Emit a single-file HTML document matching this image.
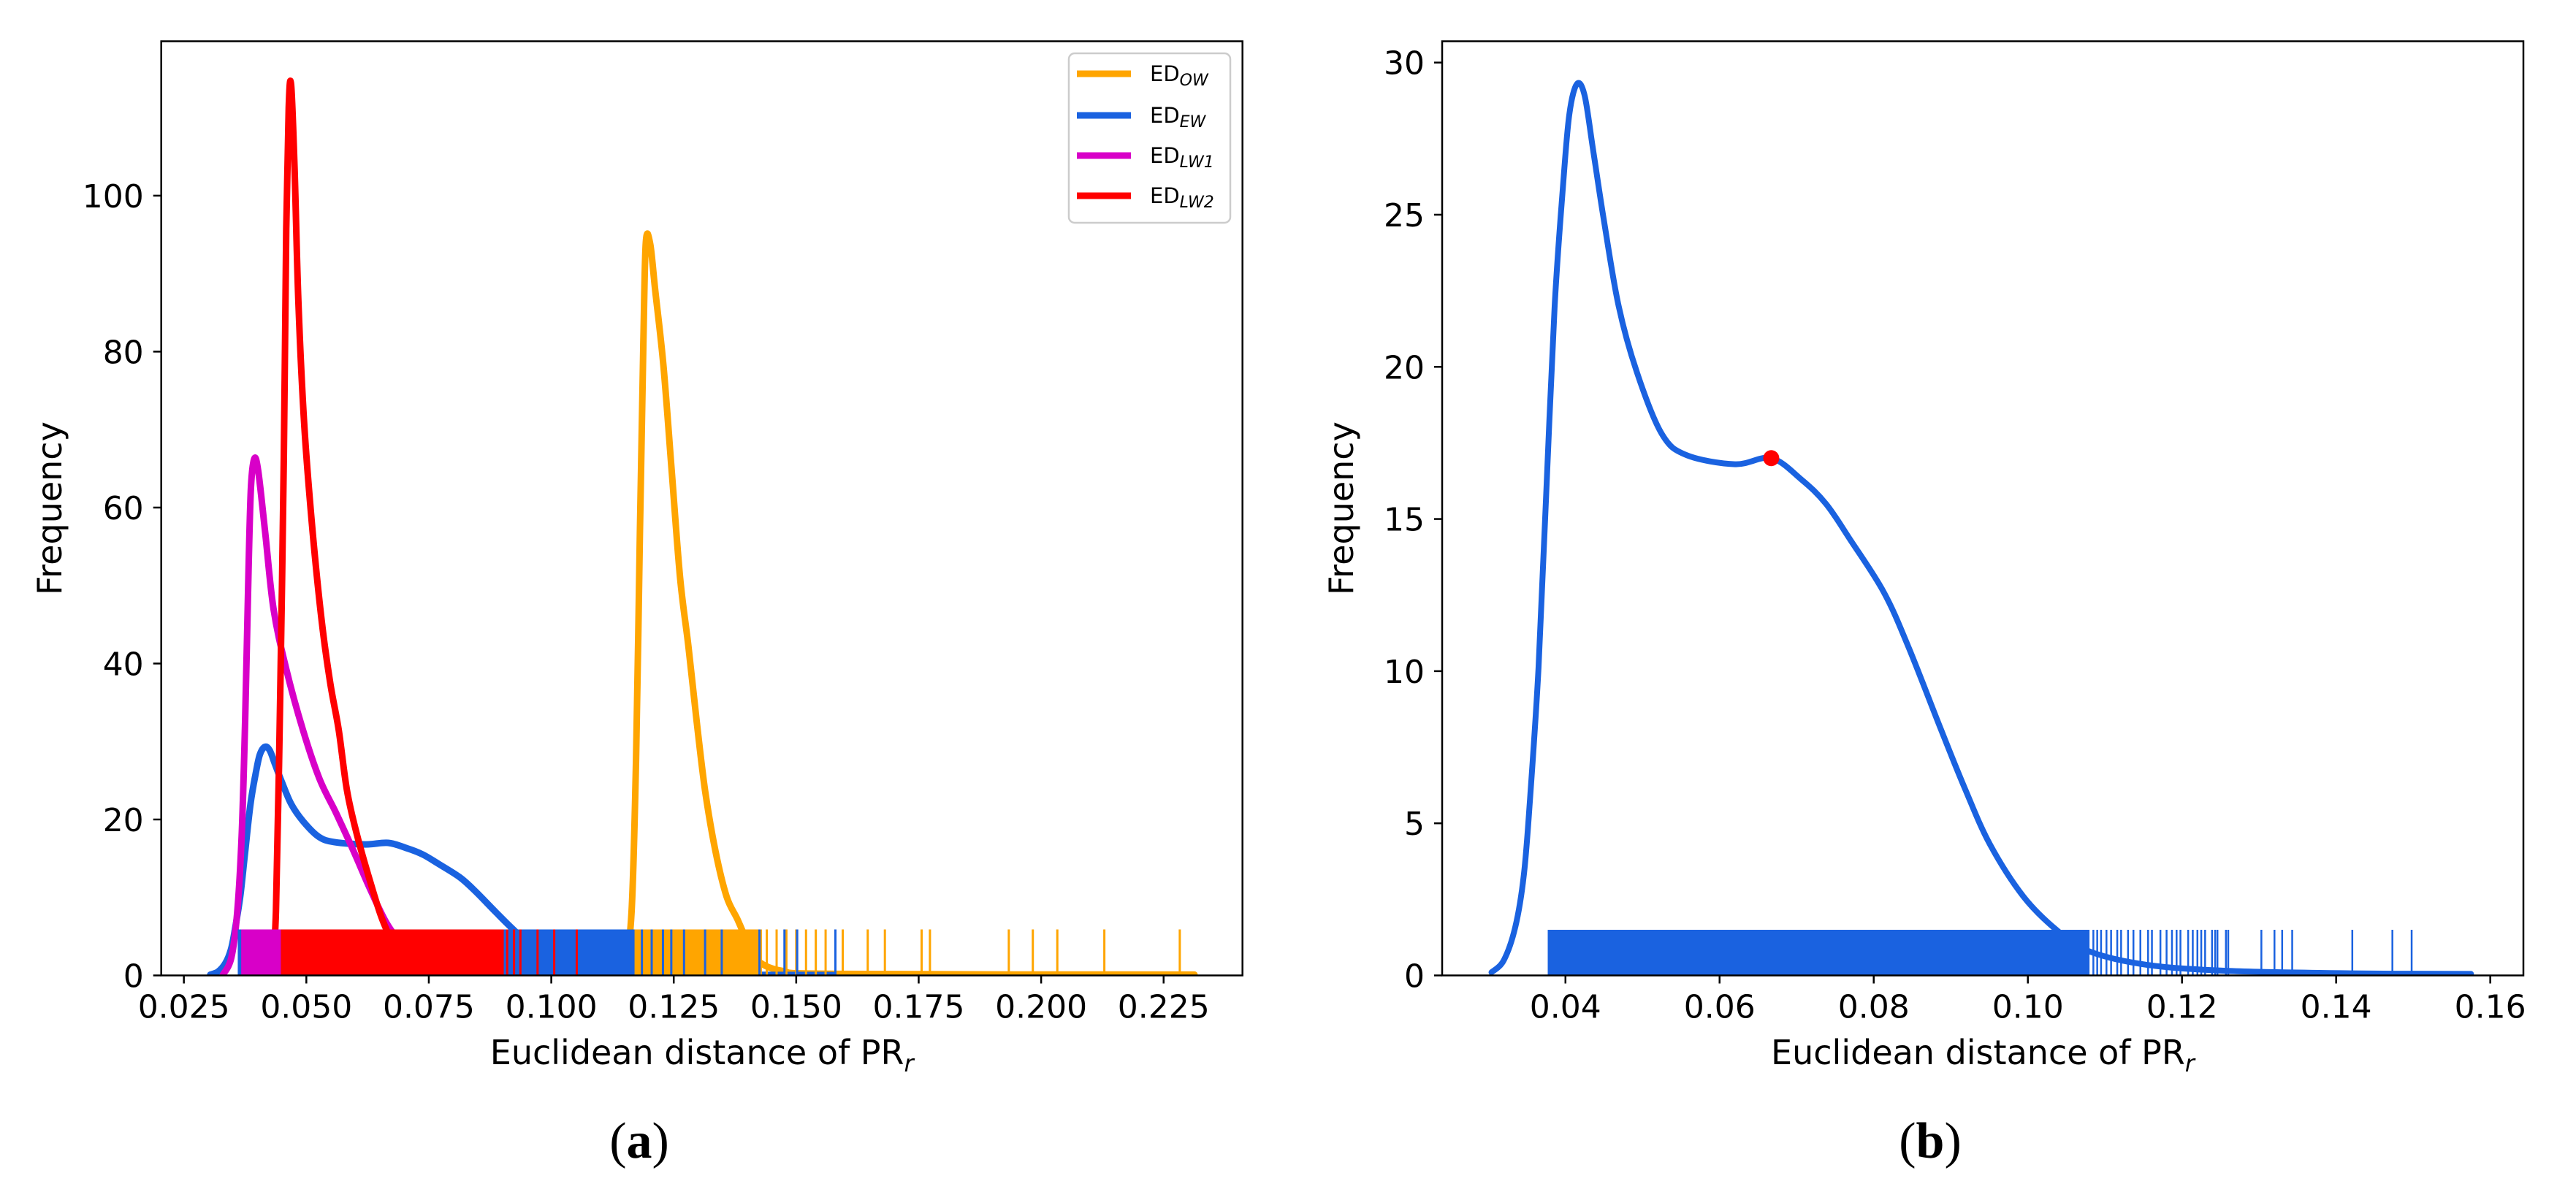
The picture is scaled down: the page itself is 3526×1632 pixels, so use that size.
<!DOCTYPE html>
<html><head><meta charset="utf-8">
<style>
html,body{margin:0;padding:0;background:#fff;}
svg{display:block;}
text{font-family:"DejaVu Sans","Liberation Sans",sans-serif;fill:#000;}
</style></head>
<body>
<svg id="fig" width="3526" height="1632" viewBox="0 0 3526 1632" xmlns="http://www.w3.org/2000/svg"></svg>
<script>
// ---------- data ----------
const xTicksA = [0.025,0.050,0.075,0.100,0.125,0.150,0.175,0.200,0.225];
const xTickLabelsA = ["0.025","0.050","0.075","0.100","0.125","0.150","0.175","0.200","0.225"];
const yTicksA = [0,20,40,60,80,100];
const xTicksB = [0.04,0.06,0.08,0.10,0.12,0.14,0.16];
const xTickLabelsB = ["0.04","0.06","0.08","0.10","0.12","0.14","0.16"];
const yTicksB = [0,5,10,15,20,25,30];

// ED_EW (blue) density
const ewX = [0.0304,0.032,0.0335,0.0346,0.0354,0.0365,0.0375,0.0386,0.0397,0.0405,0.0415,0.0425,0.0436,0.045,0.0469,0.0493,0.0525,0.0557,0.062,0.0667,0.0706,0.0738,0.077,0.0813,0.0845,0.0887,0.0919,0.0951,0.0994,0.1037,0.1079,0.1154,0.126,0.142,0.1575];
const ewY = [0.1,0.5,1.6,3.3,5.8,10.1,15.8,22,26,28.3,29.3,28.9,27.1,24.8,22,19.8,17.8,17.1,16.8,17.0,16.3,15.5,14.3,12.6,10.8,8.1,6.1,4.3,2.6,1.5,0.8,0.35,0.15,0.07,0.05];
// ED_OW (orange)
const owX = [0.115,0.1164,0.1173,0.1181,0.1188,0.1193,0.1202,0.1212,0.1229,0.1246,0.1263,0.128,0.1297,0.1314,0.1335,0.1358,0.138,0.14,0.1417,0.147,0.159,0.2313];
const owY = [0.6,8.2,27.6,56.8,81,94,93.8,88,78.2,64.6,51,42.2,32.5,23.7,16,10.1,7.2,4.3,2.1,0.6,0.2,0.1];
// ED_LW1 (magenta)
const lw1X = [0.033,0.0347,0.0359,0.0368,0.0375,0.0382,0.0387,0.0394,0.0402,0.0416,0.0433,0.0459,0.0493,0.0527,0.0561,0.0596,0.063,0.0664,0.0698,0.0732,0.0766,0.08];
const lw1Y = [0.1,2.3,8.2,17.9,32.5,52,62.6,66.3,64.6,56.8,47,39.3,31.5,25.2,20.8,16,11.1,6.7,3.8,1.8,0.9,0.3];
// ED_LW2 (red)
const lw2X = [0.0428,0.0438,0.0447,0.0454,0.0459,0.0464,0.0469,0.0476,0.0484,0.0496,0.0513,0.0532,0.0549,0.0566,0.0583,0.0604,0.063,0.0655,0.0681,0.0715,0.0766,0.0835];
const lw2Y = [0.1,8.2,37.4,66.5,95.7,111.3,114.2,103.5,86,70.4,56.8,45.1,37.4,31.5,23.7,17.9,12.1,7.2,3.8,1.6,0.4,0.1];

// rug data (dense ranges + individual ticks)
const owRugBand = [[0.1155,0.143]];
const owRugTicks = [0.144,0.146,0.148,0.150,0.152,0.154,0.156,0.1595,0.1646,0.1681,0.1756,0.1773,0.1934,0.1983,0.2033,0.2129,0.2283];
const ewRugBand = [[0.036,0.117]];
const ewRugTicks = [0.1185,0.1205,0.1228,0.1245,0.1271,0.1314,0.1348,0.1425,0.1476,0.1502,0.158];
const lw1RugBand = [[0.0367,0.0448]];
const lw2RugBand = [[0.0448,0.0903]];
const lw2RugTicks = [0.0852,0.0869,0.0886,0.0895,0.091,0.0924,0.0937,0.0972,0.1006,0.1052];
const rugHeightA = 5.9;

const ewRugBandB = [[0.0377,0.108]];
const ewRugTicksB = [0.1085,0.109,0.1095,0.1102,0.1108,0.1116,0.1121,0.113,0.1137,0.1146,0.1156,0.1161,0.1172,0.118,0.1187,0.1193,0.1198,0.1208,0.1214,0.122,0.1225,0.123,0.1239,0.1243,0.1246,0.1257,0.126,0.1303,0.132,0.133,0.1343,0.1421,0.1473,0.1498];
const rugHeightB = 1.5;
const peakB = [0.0667, 17.0];

// ---------- drawing ----------
const NS = "http://www.w3.org/2000/svg";
const svg = document.getElementById('fig');
function el(tag, attrs, parent){const e=document.createElementNS(NS,tag);for(const k in attrs)e.setAttribute(k,attrs[k]);(parent||svg).appendChild(e);return e;}

function panel(o){
  const sx = v => o.x0 + (v - o.xmin)/(o.xmax - o.xmin)*(o.x1 - o.x0);
  const sy = v => o.y1 - (v - o.ymin)/(o.ymax - o.ymin)*(o.y1 - o.y0);
  const g = el('g',{});
  
  
  const clipId = o.name+'-clip';
  const cp = el('clipPath',{id:clipId},g);
  el('rect',{x:o.x0,y:o.y0,width:o.x1-o.x0,height:o.y1-o.y0},cp);
  const plot = el('g',{'clip-path':'url(#'+clipId+')'},g);
  return {sx,sy,g,plot};
}
function rug(p, bands, ticks, h, color, name, tw){
  const gg = el('g',{},p.plot);
  
  
  bands.forEach(b=>{
    const r = el('rect',{x:p.sx(b[0]),y:p.sy(h),width:p.sx(b[1])-p.sx(b[0]),height:p.sy(0)-p.sy(h),fill:color},gg);
    
    
  });
  ticks.forEach(t=>{
    const l = el('line',{x1:p.sx(t),x2:p.sx(t),y1:p.sy(h),y2:p.sy(0),stroke:color,'stroke-width':tw},gg);
    
    
  });
}
function curve(p, xs, ys, color, w, name){
  const pts = xs.map((x,i)=>[p.sx(x), p.sy(ys[i])]);
  let d = 'M'+pts[0][0].toFixed(1)+','+pts[0][1].toFixed(1);
  for(let i=0;i<pts.length-1;i++){
    const p0=pts[Math.max(i-1,0)], p1=pts[i], p2=pts[i+1], p3=pts[Math.min(i+2,pts.length-1)];
    const t=1/6;
    const c1=[p1[0]+(p2[0]-p0[0])*t, p1[1]+(p2[1]-p0[1])*t];
    const c2=[p2[0]-(p3[0]-p1[0])*t, p2[1]-(p3[1]-p1[1])*t];
    d += ' C'+c1[0].toFixed(1)+','+c1[1].toFixed(1)+' '+c2[0].toFixed(1)+','+c2[1].toFixed(1)+' '+p2[0].toFixed(1)+','+p2[1].toFixed(1);
  }
  const path = el('path',{d:d,fill:'none',stroke:color,'stroke-width':w,'stroke-linejoin':'round','stroke-linecap':'round'},p.plot);
  
  
}
function axes(p,o,xt,xl,yt){
  const fr = el('rect',{x:o.x0,y:o.y0,width:o.x1-o.x0,height:o.y1-o.y0,fill:'none',stroke:'#000','stroke-width':2.5},p.g);
  
  
  xt.forEach((t,i)=>{
    const x=p.sx(t);
    el('line',{x1:x,x2:x,y1:o.y1,y2:o.y1+11,stroke:'#000','stroke-width':2.5},p.g);
    const tx = el('text',{x:x,y:o.y1+58,'text-anchor':'middle','font-size':44},p.g);
    tx.textContent = xl[i];
    
    
  });
  yt.forEach(t=>{
    const y=p.sy(t);
    el('line',{x1:o.x0-11,x2:o.x0,y1:y,y2:y,stroke:'#000','stroke-width':2.5},p.g);
    const tx = el('text',{x:o.x0-24,y:y+16,'text-anchor':'end','font-size':44},p.g);
    tx.textContent = String(t);
    
    
  });
  const xl2 = el('text',{x:(o.x0+o.x1)/2,y:1457,'text-anchor':'middle','font-size':46},p.g);
  xl2.innerHTML = 'Euclidean distance of PR<tspan font-size="32" font-style="italic" dy="10">r</tspan>';
  
  
  const yl = el('text',{x:0,y:0,'text-anchor':'middle','font-size':46,transform:'translate('+o.ylx+','+((o.y0+o.y1)/2)+') rotate(-90)'},p.g);
  yl.textContent='Frequency';
  
  
  const cap = el('text',{x:o.capx,y:1585,'text-anchor':'middle','font-size':70,style:'font-family:"Liberation Serif",serif'},p.g);
  cap.innerHTML = '(<tspan font-weight="bold">'+o.cap+'</tspan>)';
  
  
}

// Panel A
const oA = {name:'chart-a',x0:220.7,x1:1700.7,y0:56.5,y1:1335.5,xmin:0.02038,xmax:0.2411,ymin:0,ymax:119.8,ylx:84,capx:875,cap:'a'};
const pA = panel(oA);
curve(pA, owX, owY, '#ffa500', 9, 'ed-ow-line');
curve(pA, ewX, ewY, '#1a62e0', 9, 'ed-ew-line');
curve(pA, lw1X, lw1Y, '#d800c8', 9, 'ed-lw1-line');
curve(pA, lw2X, lw2Y, '#ff0000', 9, 'ed-lw2-line');
rug(pA, owRugBand, owRugTicks, rugHeightA, '#ffa500', 'ed-ow-rug', 3);
rug(pA, ewRugBand, ewRugTicks, rugHeightA, '#1a62e0', 'ed-ew-rug', 3);
rug(pA, lw1RugBand, [], rugHeightA, '#d800c8', 'ed-lw1-rug', 3);
rug(pA, lw2RugBand, lw2RugTicks, rugHeightA, '#ff0000', 'ed-lw2-rug', 3);
axes(pA, oA, xTicksA, xTickLabelsA, yTicksA);

// legend
const lg = el('g',{});


el('rect',{x:1463,y:73,width:221,height:232,rx:8,fill:'#fff',stroke:'#cccccc','stroke-width':2.5},lg);
const legItems = [['#ffa500','OW'],['#1a62e0','EW'],['#d800c8','LW1'],['#ff0000','LW2']];
const legRows = [101,158,213,268];
legItems.forEach((it,i)=>{
  const e = el('g',{},lg);
  
  
  el('line',{x1:1474,x2:1548,y1:legRows[i],y2:legRows[i],stroke:it[0],'stroke-width':9},e);
  const t = el('text',{x:1574,y:legRows[i]+10,'font-size':29},e);
  t.innerHTML = 'ED<tspan font-style="italic" font-size="22" dy="6">'+it[1]+'</tspan>';
});

// Panel B
const oB = {name:'chart-b',x0:1974,x1:3454,y0:56.5,y1:1335.5,xmin:0.024,xmax:0.1643,ymin:0,ymax:30.7,ylx:1852,capx:2642,cap:'b'};
const pB = panel(oB);
curve(pB, ewX, ewY, '#1a62e0', 8, 'ed-ew-line-b');
rug(pB, ewRugBandB, ewRugTicksB, rugHeightB, '#1a62e0', 'ed-ew-rug-b', 2.5);
const dot = el('circle',{cx:pB.sx(peakB[0]),cy:pB.sy(peakB[1]),r:11,fill:'#ff0000'},pB.plot);


axes(pB, oB, xTicksB, xTickLabelsB, yTicksB);
</script>
</body></html>
